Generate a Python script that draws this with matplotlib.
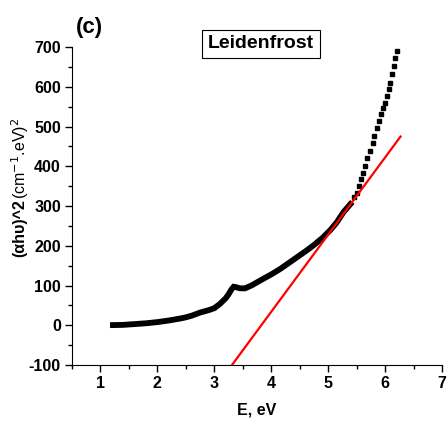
import matplotlib
matplotlib.use("Agg")
import matplotlib.pyplot as plt
from matplotlib.ticker import MultipleLocator

plt.rcParams["font.family"] = ["Liberation Sans", "DejaVu Sans"]
plt.rcParams["axes.unicode_minus"] = False

# dense part of the Tauc plot (photon energy, (alpha*h*nu)^2)
energy_low = [1.22, 1.4, 1.6, 1.8, 2.0, 2.2, 2.4, 2.5, 2.6, 2.75, 2.9, 3.0,
              3.1, 3.2, 3.25, 3.3, 3.34, 3.38, 3.45, 3.54, 3.65, 3.86, 4.0,
              4.16, 4.3, 4.45, 4.6, 4.74, 4.9, 5.04, 5.15, 5.27, 5.39]
absorb_low = [0.5, 1, 3, 5, 8, 12, 17, 20, 24, 32, 38, 43,
              54, 68, 78, 90, 97, 96, 93, 93, 100, 117, 128,
              142, 156, 171, 186, 201, 220, 240, 259, 285, 305]

# sparse high-energy points
energy_high = [5.45, 5.50, 5.54, 5.58, 5.61, 5.65, 5.69, 5.74, 5.78, 5.81,
               5.85, 5.89, 5.92, 5.96, 5.99, 6.03, 6.06, 6.09, 6.12, 6.15,
               6.18, 6.20]
absorb_high = [322, 334, 351, 368, 384, 401, 422, 439, 460, 477,
               497, 514, 531, 548, 560, 577, 594, 611, 632, 652,
               673, 690]

# linear fit used for the band gap
fit_energy = [3.31, 6.27]
fit_absorb = [-100, 475]

fig = plt.figure(figsize=(4.47, 4.21), dpi=100)
ax = fig.add_axes([0.161, 0.133, 0.828, 0.755])

ax.plot(energy_low, absorb_low, color="black", lw=4.2, solid_capstyle="projecting",
        solid_joinstyle="miter")
ax.plot(energy_high, absorb_high, color="black", ls="none", marker="s", ms=3.4)
ax.plot(fit_energy, fit_absorb, color="#ff0000", lw=1.6)

ax.set_xlim(0.5, 7)
ax.set_ylim(-100, 700)
ax.xaxis.set_major_locator(MultipleLocator(1))
ax.xaxis.set_minor_locator(MultipleLocator(0.5))
ax.yaxis.set_major_locator(MultipleLocator(100))
ax.yaxis.set_minor_locator(MultipleLocator(50))
ax.spines["top"].set_visible(False)
ax.spines["right"].set_visible(False)
ax.tick_params(which="major", direction="out", length=5, width=1,
               labelsize=11.5, pad=3)
ax.tick_params(which="minor", direction="out", length=3, width=1)
for lab in ax.get_xticklabels() + ax.get_yticklabels():
    lab.set_fontweight("bold")

ax.set_xlabel("E, eV", fontsize=11.5, fontweight="bold", labelpad=8)

# y label: bold first part, regular second part
fig.canvas.draw()
t1 = fig.text(0.045, 1 - 257 / 421, "(αhυ)^2", rotation=90, fontsize=11.5,
              fontweight="bold", ha="center", va="bottom")
fig.canvas.draw()
bb = t1.get_window_extent()
fig.text(0.045, bb.y1 / fig.bbox.height, "(cm$^{-1}$.eV)$^{2}$",
         rotation=90, fontsize=11.5, ha="center", va="bottom")

fig.text(89 / 447, 1 - 27 / 421, "(c)", fontsize=16, fontweight="bold",
         ha="center", va="center")
fig.text(261 / 447, 1 - 44 / 421, "Leidenfrost", fontsize=14,
         fontweight="bold", ha="center", va="center",
         bbox=dict(boxstyle="square,pad=0.3", fc="white", ec="black", lw=0.8))

fig.savefig("out.png", dpi=100)
